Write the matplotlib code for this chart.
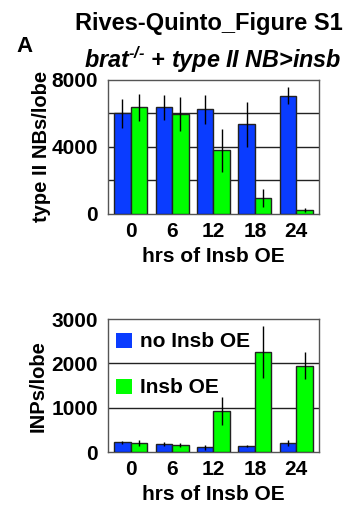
import numpy as np
import matplotlib
matplotlib.use('Agg')
import matplotlib.pyplot as plt

plt.rcParams['font.family'] = ['Liberation Sans', 'DejaVu Sans']
plt.rcParams['font.weight'] = 'bold'
plt.rcParams['mathtext.fontset'] = 'custom'
plt.rcParams['mathtext.it'] = 'Liberation Sans:italic:bold'
plt.rcParams['mathtext.rm'] = 'Liberation Sans:italic:bold'

hours = ['0', '6', '12', '18', '24']
series = ['no Insb OE', 'Insb OE']

nb_ctrl = [6000, 6350, 6250, 5350, 7050]
nb_ctrl_err = [850, 740, 860, 1350, 520]
nb_oe = [6350, 5950, 3790, 950, 240]
nb_oe_err = [800, 1000, 1280, 520, 120]

inp_ctrl = [218, 180, 113, 135, 203]
inp_ctrl_err = [40, 50, 55, 25, 70]
inp_oe = [203, 158, 925, 2255, 1947]
inp_oe_err = [70, 45, 320, 590, 305]

blue = '#0a3cff'
green = '#00ff00'

fig = plt.figure(figsize=(3.48, 5.08), dpi=100)
ax1 = fig.add_axes([0.310, 0.579, 0.607, 0.264])
ax2 = fig.add_axes([0.310, 0.110, 0.607, 0.262])

x = np.arange(len(hours))
w = 0.4

def draw(ax, a, ae, b, be, ymax, grid_step, ticks, ylabel, ypad):
    ax.bar(x - w/2, a, w, color=blue, edgecolor='#222222', linewidth=1,
           yerr=ae, error_kw=dict(ecolor='black', elinewidth=1, capsize=0),
           label=series[0], zorder=3)
    ax.bar(x + w/2, b, w, color=green, edgecolor='#222222', linewidth=1,
           yerr=be, error_kw=dict(ecolor='black', elinewidth=1, capsize=0),
           label=series[1], zorder=3)
    ax.set_xlim(-0.55, 4.55)
    ax.set_ylim(0, ymax)
    for g in np.arange(grid_step, ymax, grid_step):
        ax.axhline(g, color='#222222', linewidth=1, zorder=1)
    ax.set_yticks(ticks)
    ax.set_xticks(x)
    ax.set_xticklabels(hours)
    ax.tick_params(axis='y', length=0, labelsize=15, pad=7)
    ax.tick_params(axis='x', length=0, labelsize=15, pad=6)
    for s in ax.spines.values():
        s.set_color('#555555')
        s.set_linewidth(1)
    ax.set_xlabel('hrs of Insb OE', fontsize=15, fontweight='bold', labelpad=4)
    ax.set_ylabel(ylabel, fontsize=14.5, fontweight='bold', labelpad=ypad)

draw(ax1, nb_ctrl, nb_ctrl_err, nb_oe, nb_oe_err, 8000, 2000,
     [0, 4000, 8000], 'type II NBs/lobe', 0.5)
draw(ax2, inp_ctrl, inp_ctrl_err, inp_oe, inp_oe_err, 3000, 1000,
     [0, 1000, 2000, 3000], 'INPs/lobe', 2.5)

ax2.legend(loc='upper left', bbox_to_anchor=(0, 0.962), frameon=False,
           fontsize=15, handlelength=0.75, handleheight=0.75,
           handletextpad=0.4, labelspacing=1.3, borderaxespad=0.1,
           borderpad=0.3)
for h in ax2.get_legend().legend_handles:
    h.set_edgecolor('none')

fig.text(0.6, 0.953, 'Rives-Quinto_Figure S1', ha='center', va='center',
         fontsize=17, fontweight='bold')
fig.text(0.07, 0.908, 'A', ha='center', va='center', fontsize=16,
         fontweight='bold')
fig.text(0.612, 0.883, r'brat$^{\text{-/-}}$ + type II NB>insb', ha='center',
         va='center', fontsize=16.8, fontweight='bold', fontstyle='italic')

fig.savefig('out.png', dpi=100)
